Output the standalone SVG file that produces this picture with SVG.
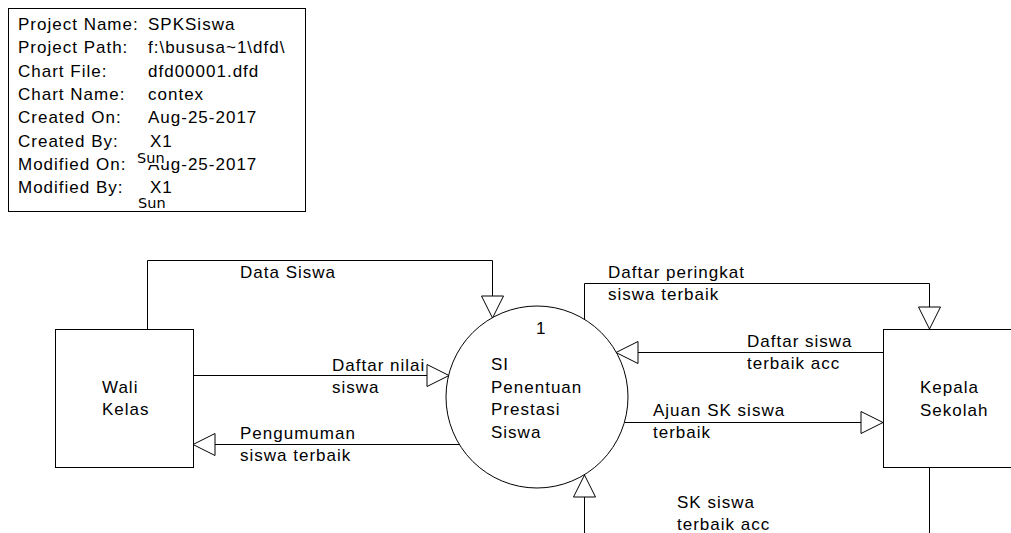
<svg xmlns="http://www.w3.org/2000/svg" width="1011" height="533" viewBox="0 0 1011 533">
  <style>
    .t { font-family: "Liberation Sans", Arial, sans-serif; font-size: 17px; letter-spacing: 1px; fill: #000; }
    .s { font-family: "DejaVu Sans", Verdana, sans-serif; font-size: 14.5px; fill: #000; }
    .box { fill: #fff; stroke: #000; stroke-width: 1; }
    .flow { fill: none; stroke: #000; stroke-width: 1; }
  </style>
  <defs>
    <!-- open triangular arrowhead, tip at the path end -->
    <marker id="arrow" markerUnits="userSpaceOnUse" markerWidth="24" markerHeight="24"
            refX="22" refY="11" orient="auto" overflow="visible">
      <path d="M0,0 L22,11 L0,22 Z" fill="#fff" stroke="#000" stroke-width="1"/>
    </marker>
  </defs>

  <rect width="1011" height="533" fill="#fff"/>

  <!-- chart information block -->
  <g id="chart-info">
    <rect class="box" x="8.5" y="8.5" width="297" height="203"/>
    <text class="t" x="18" y="30">Project Name:</text>
    <text class="t" x="148" y="30">SPKSiswa</text>
    <text class="t" x="18" y="53">Project Path:</text>
    <text class="t" x="148" y="53">f:\bususa~1\dfd\</text>
    <text class="t" x="18" y="76.5">Chart File:</text>
    <text class="t" x="148" y="76.5">dfd00001.dfd</text>
    <text class="t" x="18" y="100">Chart Name:</text>
    <text class="t" x="148" y="100">contex</text>
    <text class="t" x="18" y="123">Created On:</text>
    <text class="t" x="148" y="123">Aug-25-2017</text>
    <text class="t" x="18" y="146.5">Created By:</text>
    <text class="t" x="150" y="146.5">X1</text>
    <text class="t" x="18" y="170">Modified On:</text>
    <text class="t" x="148" y="170">Aug-25-2017</text>
    <rect x="136" y="150" width="28" height="15" fill="#fff"/>
    <text class="s" x="137" y="163">Sun</text>
    <text class="t" x="18" y="193">Modified By:</text>
    <text class="t" x="150" y="193">X1</text>
    <text class="s" x="138" y="208">Sun</text>
  </g>

  <!-- data flows -->
  <g id="connectors">
    <path class="flow" d="M147.5,329 V260.5 H492.5 V318" marker-end="url(#arrow)"/>
    <path class="flow" d="M193,375.5 H449" marker-end="url(#arrow)"/>
    <path class="flow" d="M459,444.5 H193" marker-end="url(#arrow)"/>
    <path class="flow" d="M584.5,319 V283.5 H929.5 V329" marker-end="url(#arrow)"/>
    <path class="flow" d="M883,352.5 H616" marker-end="url(#arrow)"/>
    <path class="flow" d="M624.5,422.5 H883" marker-end="url(#arrow)"/>
    <path class="flow" d="M584.5,533 V475" marker-end="url(#arrow)"/>
    <path class="flow" d="M929.5,467 V533"/>
  </g>

  <!-- flow labels -->
  <g id="labels">
    <text class="t" x="240" y="278">Data Siswa</text>
    <text class="t" x="332" y="371">Daftar nilai</text>
    <text class="t" x="332" y="393">siswa</text>
    <text class="t" x="240" y="439">Pengumuman</text>
    <text class="t" x="240" y="461">siswa terbaik</text>
    <text class="t" x="608" y="278">Daftar peringkat</text>
    <text class="t" x="608" y="300">siswa terbaik</text>
    <text class="t" x="747" y="347">Daftar siswa</text>
    <text class="t" x="747" y="369">terbaik acc</text>
    <text class="t" x="653" y="416">Ajuan SK siswa</text>
    <text class="t" x="653" y="438">terbaik</text>
    <text class="t" x="677" y="508">SK siswa</text>
    <text class="t" x="677" y="530">terbaik acc</text>
  </g>

  <!-- external entity: Wali Kelas -->
  <g id="wali-kelas">
    <rect class="box" x="55.5" y="329.5" width="138" height="138"/>
    <text class="t" x="102" y="393">Wali</text>
    <text class="t" x="102" y="415">Kelas</text>
  </g>

  <!-- process 1 -->
  <g id="process-1">
    <circle class="box" cx="537" cy="397" r="91" fill="none"/>
    <text class="t" x="536" y="334">1</text>
    <text class="t" x="491" y="370">SI</text>
    <text class="t" x="491" y="392.5">Penentuan</text>
    <text class="t" x="491" y="415">Prestasi</text>
    <text class="t" x="491" y="437.5">Siswa</text>
  </g>

  <!-- external entity: Kepala Sekolah -->
  <g id="kepala-sekolah">
    <rect class="box" x="883.5" y="329.5" width="160" height="138"/>
    <text class="t" x="920" y="393">Kepala</text>
    <text class="t" x="920" y="416">Sekolah</text>
  </g>
</svg>
